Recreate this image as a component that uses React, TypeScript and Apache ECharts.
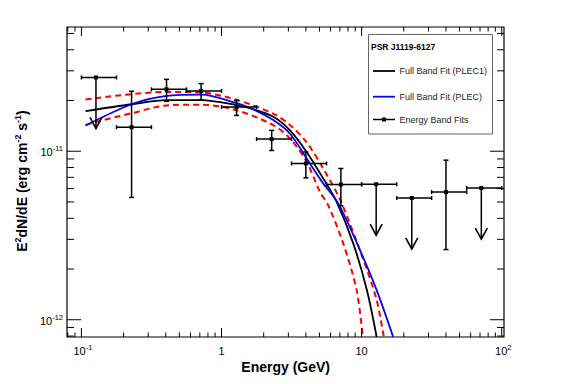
import React, { useEffect, useRef } from "react";
import * as echarts from "echarts";

// ---- axis ranges ----
const X_MIN = 0.0789;
const X_MAX = 103.8;
const Y_MIN = 7.9e-13;
const Y_MAX = 5.46e-11;

// ---- tick values ----
const xMajorTicks = [0.1, 1, 10, 100];
const xMinorTicks = [0.08, 0.09, 0.2, 0.3, 0.4, 0.5, 0.6, 0.7, 0.8, 0.9, 2, 3, 4, 5, 6, 7, 8, 9, 20, 30, 40, 50, 60, 70, 80, 90];
const yMajorTicks = [1e-12, 1e-11];
const yMinorTicks = [8e-13, 9e-13, 2e-12, 3e-12, 4e-12, 5e-12, 6e-12, 7e-12, 8e-12, 9e-12, 2e-11, 3e-11, 4e-11, 5e-11];
const xTickLabels = [
  { v: 0.1, base: "10", sup: "-1" },
  { v: 1, base: "1", sup: "" },
  { v: 10, base: "10", sup: "" },
  { v: 100, base: "10", sup: "2" },
];
const yTickLabels = [
  { v: 1e-11, base: "10", sup: "-11" },
  { v: 1e-12, base: "10", sup: "-12" },
];

// ---- energy band fits ----
const energy = [0.127, 0.228, 0.405, 0.715, 1.28, 2.28, 4.0, 7.11, 12.7, 22.8, 40, 71.5];
const energyLow = [0.1, 0.178, 0.316, 0.562, 1.0, 1.78, 3.16, 5.62, 10, 17.8, 31.6, 56.2];
const energyHigh = [0.178, 0.316, 0.562, 1.0, 1.78, 3.16, 5.62, 10, 17.8, 31.6, 56.2, 100];
const flux = [2.74e-11, 1.39e-11, 2.33e-11, 2.28e-11, 1.83e-11, 1.18e-11, 8.46e-12, 6.35e-12, 6.37e-12, 5.28e-12, 5.72e-12, 6.05e-12];
const fluxLow = [null, 5.32e-12, 1.98e-11, 2.02e-11, 1.63e-11, 1.01e-11, 6.95e-12, 4.74e-12, null, null, 2.61e-12, null];
const fluxHigh = [null, 2.27e-11, 2.67e-11, 2.52e-11, 2.0e-11, 1.33e-11, 9.9e-12, 7.9e-12, null, null, 8.85e-12, null];
const isUpperLimit = [true, false, false, false, false, false, false, false, true, true, false, true];

// ---- fitted curves ----
const plec1X = [0.107, 0.228, 0.405, 0.72, 1.28, 1.59, 2.34, 3.08, 4.05, 5.32, 6.63, 8.71, 10.9, 12.8];
const plec1Y = [1.73e-11, 1.9e-11, 2.01e-11, 2.01e-11, 1.88e-11, 1.8e-11, 1.6e-11, 1.33e-11, 9.9e-12, 6.89e-12, 5.01e-12, 2.84e-12, 1.5e-12, 7.9e-13];

const plecX = [0.107, 0.228, 0.405, 0.72, 1.28, 1.59, 2.34, 3.08, 4.05, 5.32, 6.81, 9.73, 12.8, 16.8];
const plecY = [1.42e-11, 1.9e-11, 2.13e-11, 2.17e-11, 1.93e-11, 1.81e-11, 1.53e-11, 1.27e-11, 9.06e-12, 6.44e-12, 4.9e-12, 2.59e-12, 1.5e-12, 7.9e-13];

const upperBandX = [0.107, 0.405, 0.72, 1.28, 2.34, 3.08, 4.05, 5.32, 7.1, 10.3, 12.8, 14.4];
const upperBandY = [2.03e-11, 2.25e-11, 2.23e-11, 2.02e-11, 1.67e-11, 1.43e-11, 1.13e-11, 7.89e-12, 5.05e-12, 2.26e-12, 1.31e-12, 7.9e-13];

const lowerBandX = [0.107, 0.135, 0.228, 0.405, 0.72, 1.28, 2.34, 3.08, 4.05, 5.04, 5.77, 7.39, 9.21, 10.2];
const lowerBandY = [1.43e-11, 1.51e-11, 1.68e-11, 1.87e-11, 1.89e-11, 1.75e-11, 1.43e-11, 1.19e-11, 8.65e-12, 5.74e-12, 4.78e-12, 2.84e-12, 1.5e-12, 7.9e-13];

const FONT = "'Liberation Sans', Arial, Helvetica, sans-serif";

const zip = (xs: number[], ys: number[]) => xs.map((x, i) => [x, ys[i]]);

export default function App() {
  const ref = useRef<HTMLDivElement>(null);

  useEffect(() => {
    if (!ref.current) return;
    const chart = echarts.init(ref.current, null, { renderer: "svg" });

    const tickRich = {
      b: { fontSize: 11, fontFamily: FONT, color: "#000", lineHeight: 15 },
      s: { fontSize: 7.5, fontFamily: FONT, color: "#000", lineHeight: 7, verticalAlign: "top" },
    };
    const labelText = (base: string, sup: string) => (sup ? `{b|${base}}{s|${sup}}` : `{b|${base}}`);

    const option: any = {
      animation: false,
      backgroundColor: "#fff",
      grid: {
        left: 67,
        top: 27,
        width: 437,
        height: 310,
        show: true,
        borderColor: "#000",
        borderWidth: 1.2,
        backgroundColor: "transparent",
      },
      xAxis: {
        type: "log",
        logBase: 10,
        min: X_MIN,
        max: X_MAX,
        axisLine: { show: false },
        axisTick: { show: false },
        axisLabel: { show: false },
        splitLine: { show: false },
        minorTick: { show: false },
      },
      yAxis: {
        type: "log",
        logBase: 10,
        min: Y_MIN,
        max: Y_MAX,
        axisLine: { show: false },
        axisTick: { show: false },
        axisLabel: { show: false },
        splitLine: { show: false },
        minorTick: { show: false },
      },
      series: [
        // x ticks (bottom and top)
        {
          type: "custom",
          silent: true,
          z: 5,
          data: [...xMajorTicks.map((v) => [v, Y_MIN, 1]), ...xMinorTicks.map((v) => [v, Y_MIN, 0])],
          renderItem: (params: any, api: any) => {
            const cs = params.coordSys;
            const x = api.coord([api.value(0), Y_MIN])[0];
            const len = api.value(2) === 1 ? 9 : 4.5;
            const bottom = cs.y + cs.height;
            return {
              type: "group",
              children: [
                { type: "line", shape: { x1: x, y1: bottom, x2: x, y2: bottom - len }, style: { stroke: "#000", lineWidth: 1 } },
                { type: "line", shape: { x1: x, y1: cs.y, x2: x, y2: cs.y + len }, style: { stroke: "#000", lineWidth: 1 } },
              ],
            };
          },
        },
        // y ticks (left and right)
        {
          type: "custom",
          silent: true,
          z: 5,
          data: [...yMajorTicks.map((v) => [X_MIN, v, 1]), ...yMinorTicks.map((v) => [X_MIN, v, 0])],
          renderItem: (params: any, api: any) => {
            const cs = params.coordSys;
            const y = api.coord([X_MIN, api.value(1)])[1];
            const len = api.value(2) === 1 ? 14 : 7;
            const right = cs.x + cs.width;
            return {
              type: "group",
              children: [
                { type: "line", shape: { x1: cs.x, y1: y, x2: cs.x + len, y2: y }, style: { stroke: "#000", lineWidth: 1 } },
                { type: "line", shape: { x1: right, y1: y, x2: right - len, y2: y }, style: { stroke: "#000", lineWidth: 1 } },
              ],
            };
          },
        },
        // x tick labels
        {
          type: "custom",
          silent: true,
          data: xTickLabels.map((t) => [t.v, Y_MIN]),
          renderItem: (params: any, api: any) => {
            const cs = params.coordSys;
            const t = xTickLabels[params.dataIndex];
            const x = api.coord([api.value(0), Y_MIN])[0];
            return {
              type: "text",
              x: x + (t.sup ? 1.5 : 0),
              y: cs.y + cs.height + 13.5,
              style: { text: labelText(t.base, t.sup), rich: tickRich, align: "center", verticalAlign: "middle" },
            };
          },
        },
        // y tick labels
        {
          type: "custom",
          silent: true,
          data: yTickLabels.map((t) => [X_MIN, t.v]),
          renderItem: (params: any, api: any) => {
            const cs = params.coordSys;
            const t = yTickLabels[params.dataIndex];
            const y = api.coord([X_MIN, api.value(1)])[1];
            return {
              type: "text",
              x: cs.x - 4,
              y: y + 1,
              style: { text: labelText(t.base, t.sup), rich: tickRich, align: "right", verticalAlign: "middle" },
            };
          },
        },
        // fit bands (red dashed)
        {
          type: "line",
          name: "upper",
          data: zip(upperBandX, upperBandY),
          smooth: 0.3,
          showSymbol: false,
          symbol: "none",
          lineStyle: { color: "#ff0000", width: 2, type: [6, 4] },
          z: 3,
        },
        {
          type: "line",
          name: "lower",
          data: zip(lowerBandX, lowerBandY),
          smooth: 0.3,
          showSymbol: false,
          symbol: "none",
          lineStyle: { color: "#ff0000", width: 2, type: [6, 4] },
          z: 3,
        },
        // PLEC1
        {
          type: "line",
          name: "Full Band Fit (PLEC1)",
          data: zip(plec1X, plec1Y),
          smooth: 0.3,
          symbol: "none",
          lineStyle: { color: "#000", width: 1.8 },
          z: 4,
        },
        // PLEC
        {
          type: "line",
          name: "Full Band Fit (PLEC)",
          data: zip(plecX, plecY),
          smooth: 0.3,
          symbol: "none",
          lineStyle: { color: "#0000ff", width: 1.8 },
          z: 4,
        },
        // Energy band fits
        {
          type: "custom",
          name: "Energy Band Fits",
          z: 6,
          data: energy.map((e, i) => [e, flux[i]]),
          renderItem: (params: any, api: any) => {
            const i = params.dataIndex;
            const p = api.coord([energy[i], flux[i]]);
            const pl = api.coord([energyLow[i], flux[i]]);
            const ph = api.coord([energyHigh[i], flux[i]]);
            const st = { stroke: "#000", lineWidth: 1.5 };
            const children: any[] = [
              { type: "line", shape: { x1: pl[0], y1: p[1], x2: ph[0], y2: p[1] }, style: st },
              { type: "line", shape: { x1: pl[0], y1: p[1] - 2, x2: pl[0], y2: p[1] + 2 }, style: st },
              { type: "line", shape: { x1: ph[0], y1: p[1] - 2, x2: ph[0], y2: p[1] + 2 }, style: st },
            ];
            if (isUpperLimit[i]) {
              const tip = p[1] + 51;
              children.push({ type: "line", shape: { x1: p[0], y1: p[1], x2: p[0], y2: tip }, style: st });
              children.push({
                type: "polyline",
                shape: { points: [[p[0] - 6, tip - 11], [p[0], tip], [p[0] + 6, tip - 11]] },
                style: { stroke: "#000", lineWidth: 1.6, fill: null },
              });
            } else {
              const lo = api.coord([energy[i], fluxLow[i] as number]);
              const hi = api.coord([energy[i], fluxHigh[i] as number]);
              children.push({ type: "line", shape: { x1: p[0], y1: lo[1], x2: p[0], y2: hi[1] }, style: st });
              children.push({ type: "line", shape: { x1: p[0] - 2.5, y1: lo[1], x2: p[0] + 2.5, y2: lo[1] }, style: st });
              children.push({ type: "line", shape: { x1: p[0] - 2.5, y1: hi[1], x2: p[0] + 2.5, y2: hi[1] }, style: st });
            }
            children.push({ type: "rect", shape: { x: p[0] - 2, y: p[1] - 2, width: 4, height: 4 }, style: { fill: "#000" } });
            return { type: "group", children };
          },
        },
      ],
      graphic: [
        // axis titles
        {
          type: "text",
          x: 330,
          y: 367,
          style: {
            text: "Energy (GeV)",
            font: `bold 14px ${FONT}`,
            fill: "#000",
            align: "right",
            verticalAlign: "middle",
          },
        },
        {
          type: "text",
          x: 22,
          y: 181,
          rotation: Math.PI / 2,
          style: {
            text: "{b|E}{s|2}{b|dN/dE (erg cm}{s|-2}{b| s}{s|-1}{b|)}",
            rich: {
              b: { fontSize: 14, fontWeight: "bold", fontFamily: FONT, color: "#000", lineHeight: 17 },
              s: { fontSize: 9, fontWeight: "bold", fontFamily: FONT, color: "#000", lineHeight: 9, verticalAlign: "top" },
            },
            align: "center",
            verticalAlign: "middle",
          },
        },
        // legend
        {
          type: "group",
          z: 100,
          children: [
            { type: "rect", shape: { x: 368.5, y: 34.5, width: 124, height: 99.5 }, style: { fill: "#fff", stroke: "#666", lineWidth: 1 } },
            {
              type: "text",
              x: 371,
              y: 46.5,
              style: { text: "PSR J1119-6127", font: `bold 8.5px ${FONT}`, fill: "#000", verticalAlign: "middle" },
            },
            { type: "line", shape: { x1: 373, y1: 71, x2: 395, y2: 71 }, style: { stroke: "#000", lineWidth: 1.8 } },
            { type: "text", x: 399.5, y: 71, style: { text: "Full Band Fit (PLEC1)", font: `9px ${FONT}`, fill: "#222", verticalAlign: "middle" } },
            { type: "line", shape: { x1: 373, y1: 96.7, x2: 395, y2: 96.7 }, style: { stroke: "#0000ff", lineWidth: 1.8 } },
            { type: "text", x: 399.5, y: 96.7, style: { text: "Full Band Fit (PLEC)", font: `9px ${FONT}`, fill: "#222", verticalAlign: "middle" } },
            { type: "line", shape: { x1: 373, y1: 119.5, x2: 395, y2: 119.5 }, style: { stroke: "#000", lineWidth: 1.5 } },
            { type: "rect", shape: { x: 382, y: 117.5, width: 4, height: 4 }, style: { fill: "#000" } },
            { type: "text", x: 399.5, y: 119.5, style: { text: "Energy Band Fits", font: `9px ${FONT}`, fill: "#222", verticalAlign: "middle" } },
          ],
        },
      ],
    };

    chart.setOption(option);
    return () => chart.dispose();
  }, []);

  return (
    <div
      ref={ref}
      style={{ position: "fixed", left: 0, top: 0, width: 567, height: 384, background: "#fff" }}
    />
  );
}
